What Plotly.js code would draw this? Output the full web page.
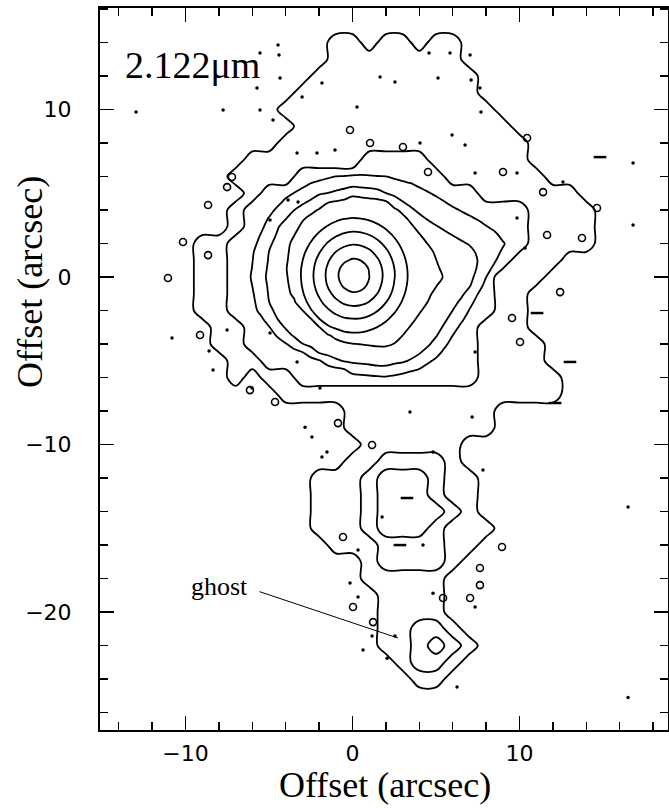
<!DOCTYPE html>
<html><head><meta charset="utf-8">
<script src="https://cdn.plot.ly/plotly-3.0.1.min.js"></script>
<style>html,body{margin:0;padding:0;background:#fff}#chart{width:669px;height:808px}</style>
</head><body><div id="chart"></div>
<script>
// Outer envelope: contour level index per 1-arcsec cell (0..3)
const outerX = [-12,-11,-10,-9,-8,-7,-6,-5,-4,-3,-2,-1,0,1,2,3,4,5,6,7,8,9,10,11,12,13,14,15,16,17];
const outerY = [15,14,13,12,11,10,9,8,7,6,5,4,3,2,1,0,-1,-2,-3,-4,-5,-6,-7,-8,-9,-10,-11,-12,-13,-14,-15,-16,-17,-18,-19,-20,-21,-22,-23,-24,-25];
const outerLevels = [
"000000000000000000000000000000",
"000000000001101101100000000000",
"000000000001111111100000000000",
"000000000011111111110000000000",
"000000000111111111110000000000",
"000000001111111111111000000000",
"000000000111111111111100000000",
"000000001111111111111110000000",
"000000111111122221111110000000",
"000001111222222222111111000000",
"000000122222222222221111110000",
"000001222222222222222221111000",
"000001222222222222222221111000",
"000112222222222222222221111000",
"000112222222222222222211100000",
"000112222222222222222111000000",
"000112222222222222222110000000",
"000112222222222222222110000000",
"000011222222222222221110000000",
"000011222222222222221111000000",
"000001122222222222221111000000",
"000001011222222222221111100000",
"000000001111111111111111100000",
"000000000000111111111000000000",
"000000000000111111111000000000",
"000000000000011111100000000000",
"000000000000112222100000000000",
"000000000011123332110000000000",
"000000000011123332110000000000",
"000000000011123333210000000000",
"000000000011123332111000000000",
"000000000001112222110000000000",
"000000000000012222100000000000",
"000000000000011111000000000000",
"000000000000001111000000000000",
"000000000000001111000000000000",
"000000000000001122100000000000",
"000000000000001123210000000000",
"000000000000000122100000000000",
"000000000000000011000000000000",
"000000000000000000000000000000"
];
// Central source: brightness in contour-level units per 0.5-arcsec cell
const innerX = [-6.5,-6,-5.5,-5,-4.5,-4,-3.5,-3,-2.5,-2,-1.5,-1,-0.5,0,0.5,1,1.5,2,2.5,3,3.5,4,4.5,5,5.5,6,6.5,7,7.5,8,8.5,9,9.5];
const innerY = [6.5,6,5.5,5,4.5,4,3.5,3,2.5,2,1.5,1,0.5,0,-0.5,-1,-1.5,-2,-2.5,-3,-3.5,-4,-4.5,-5,-5.5,-6,-6.5];
const innerLevels = [
[0,0,0,0,0,0,0,0,0,0,0,2,2.03,2.07,2.1,2.07,2.03,2,0,0,0,0,0,0,0,0,0,0,0,0,0,0,0],
[0,0,0,0,0,0,0,0,2.1,2.23,2.37,2.51,2.53,2.57,2.6,2.57,2.53,2.51,2.37,2.23,2.1,0,0,0,0,0,0,0,0,0,0,0,0],
[0,0,0,0,0,0,2.03,2.31,2.6,2.78,2.93,3.08,3.16,3.27,3.22,3.17,3.11,3,2.83,2.71,2.6,2.35,2.1,0,0,0,0,0,0,0,0,0,0],
[0,0,0,0,0,2.2,2.53,2.82,3.11,3.4,3.51,3.69,3.9,4.31,4.16,4.01,3.85,3.51,3.25,3,3,2.85,2.6,2.32,2.01,0,0,0,0,0,0,0,0],
[0,0,0,0,2.2,2.7,3,3.33,3.61,4.04,4.43,4.56,4.69,4.82,4.87,4.81,4.76,4.57,4.02,3.51,3.17,3,3,2.82,2.51,2.2,0,0,0,0,0,0,0],
[0,0,0,2.15,2.7,3.08,3.49,3.83,4.28,4.57,4.86,5,5,5,5,5,5,4.97,4.66,4.3,3.67,3.28,3,3,3,2.7,2.43,2.17,0,0,0,0,0],
[0,0,2.05,2.57,3,3.45,3.95,4.4,4.69,4.98,5.03,5.29,5.46,5.53,5.49,5.37,5.15,5,5,4.7,4.31,3.78,3.4,3.09,3,3,2.93,2.67,2.4,2.07,0,0,0],
[0,0,2.3,2.83,3.39,3.94,4.23,4.67,5,5.2,5.57,5.86,6.05,6.14,6.1,5.95,5.69,5.36,5,5,4.63,4.24,3.9,3.59,3.28,3,3,3,2.9,2.57,2.23,0,0],
[0,2.04,2.54,3.07,3.6,4.04,4.48,4.91,5.2,5.67,6.08,6.41,6.65,6.76,6.71,6.52,6.22,5.84,5.39,5,4.95,4.56,4.17,4,3.78,3.48,3.19,3,3,3,2.75,2.2,0],
[0,2.22,2.75,3.31,3.83,4.25,4.72,5.02,5.57,6.08,6.56,6.98,7.28,7.42,7.36,7.12,6.74,6.28,5.78,5.24,5,4.87,4.48,4.09,4,3.98,3.69,3.4,3,3,3,2.62,2.1],
[0,2.4,2.95,3.51,4,4.32,4.81,5.29,5.88,6.44,7.01,7.51,7.85,8.01,7.94,7.67,7.22,6.67,6.11,5.52,5,5,4.8,4.35,4,4,4,3.85,3.3,3,2.85,2.35,0],
[0,2.47,3.02,3.57,4,4.38,4.87,5.48,6.11,6.74,7.38,7.92,8.36,8.61,8.49,8.11,7.61,7,6.35,5.73,5.11,5,4.99,4.52,4.05,4,4,3.98,3.48,3,2.6,2.1,0],
[2.03,2.53,3.1,3.64,4,4.44,4.94,5.6,6.24,6.92,7.6,8.2,8.82,9.31,9.07,8.43,7.84,7.2,6.51,5.86,5.21,5,5,4.7,4.23,4,4,3.92,3.41,2.8,2.3,0,0],
[2.1,2.6,3.17,3.7,4,4.39,4.89,5.63,6.28,6.96,7.65,8.27,8.98,9.69,9.27,8.52,7.9,7.24,6.54,5.89,5.24,5,5,4.83,4.41,4,4,3.79,3.2,2.51,2,0,0],
[2,2.51,3.07,3.63,4,4.32,4.81,5.56,6.2,6.86,7.53,8.1,8.65,9.03,8.85,8.32,7.76,7.13,6.45,5.82,5.18,5,4.97,4.55,4.11,4,4,3.6,2.88,2.25,0,0,0],
[0,2.4,2.98,3.57,4,4.25,4.67,5.41,6.02,6.63,7.24,7.77,8.16,8.36,8.27,7.94,7.48,6.88,6.27,5.66,5.04,5,4.69,4.28,4,4,3.71,3.13,2.51,2,0,0,0],
[0,2.3,2.88,3.49,4,4,4.37,5.19,5.76,6.31,6.84,7.31,7.64,7.78,7.72,7.47,7.04,6.52,5.98,5.42,5,4.9,4.49,4.05,4,3.83,3.31,2.76,2.23,0,0,0,0],
[0,2.2,2.71,3.24,3.75,4,4.06,4.46,5.43,5.92,6.37,6.75,7.03,7.16,7.1,6.88,6.53,6.11,5.63,5.11,5,4.61,4.21,4,4,3.49,2.98,2.46,0,0,0,0,0],
[0,0,2.33,2.9,3.49,4,4,4.1,4.45,5.48,5.88,6.19,6.41,6.48,6.46,6.29,6.01,5.65,5.22,5,4.73,4.32,4,4,3.67,3.17,2.67,2.17,0,0,0,0,0],
[0,0,0,2.45,3.03,3.6,4,4,4.1,4.45,5.36,5.63,5.81,5.89,5.86,5.72,5.48,5.16,5,4.81,4.42,4.03,4,3.86,3.36,2.84,2.33,0,0,0,0,0,0],
[0,0,0,2.08,2.58,3.09,3.6,3.98,4,4.09,4.31,4.8,5.22,5.28,5.26,5.13,5,5,4.89,4.49,4.11,4,4,3.56,3.03,2.49,0,0,0,0,0,0,0],
[0,0,0,0,2.1,2.43,2.88,3.47,3.78,4,4,4.08,4.29,4.46,4.52,4.58,4.64,4.63,4.48,4.19,4,4,3.65,3.16,2.7,2.17,0,0,0,0,0,0,0],
[0,0,0,0,0,0,2.24,2.47,2.96,3.58,3.78,3.92,4,4,4.02,4.08,4.14,4.15,4,4,3.91,3.59,3.17,2.83,2.3,0,0,0,0,0,0,0,0],
[0,0,0,0,0,0,0,0,2.19,2.41,2.95,3.35,3.56,3.7,3.76,3.81,3.87,3.86,3.75,3.64,3.39,3.07,2.67,2.33,0,0,0,0,0,0,0,0,0],
[0,0,0,0,0,0,0,0,0,0,2.12,2.31,2.49,2.9,3,3.11,3.23,3.24,3.05,2.86,2.64,2.49,2.17,0,0,0,0,0,0,0,0,0,0],
[0,0,0,0,0,0,0,0,0,0,0,0,2.01,2.2,2.25,2.3,2.35,2.4,2.3,2.2,2.1,0,0,0,0,0,0,0,0,0,0,0,0],
[0,0,0,0,0,0,0,0,0,0,0,0,0,0,0,0,0,0,0,0,0,0,0,0,0,0,0,0,0,0,0,0,0]
];
// Noise specks (arcsec)
const dotX = [-5.54,-4.46,-4.34,-5.72,-7.75,-5.54,-4.76,-1.83,-3.02,1.65,2.54,0.27,-1.05,-2.13,-3.32,5.12,5.84,7.04,7.63,5.96,7.34,9.85,12.6,16.8,9.85,10.33,7.34,-10.81,-7.51,-8.59,-8.35,-3.26,-3.86,-4.94,-4.94,-3.32,-1.95,-6.02,-2.43,-2.84,-1.53,-1.83,3.44,4.82,7.81,7.16,1.77,4.22,0.33,-0.15,0.33,1.17,0.63,2.07,2.54,4.82,7.34,6.26,16.5,16.8,-12.96,7.1,7.69,4.58,-4.4,4.04,6.74,16.5];
const dotY = [13.37,13.85,11.88,11.28,9.97,9.97,9.37,11.58,10.75,11.94,11.64,10.15,7.58,7.4,7.4,11.88,13.37,13.25,11.28,8.48,6.21,6.21,5.67,3.1,3.52,1.73,-4.48,-3.64,-3.16,-4.42,-5.55,4.48,4.6,3.4,-3.34,-5.07,-6.63,-6.63,-9.55,-8.96,-10.45,-10.75,-8.06,-10.45,-11.52,-8.36,-14.33,-16.0,-16.3,-18.27,-19.1,-21.43,-22.27,-22.75,-21.43,-18.87,-19.7,-24.48,-13.73,6.81,9.85,11.76,9.85,13.37,13.25,8.0,7.88,-25.1];
const loopX = [-7.51,-7.22,-8.65,-10.15,-8.65,-11.05,-9.13,-6.14,-4.64,-0.87,1.17,8.95,-0.57,0.03,1.23,5.42,7.04,7.63,7.63,4.52,11.41,11.65,13.74,12.43,10.03,9.55,14.64,10.45,9.01,-0.15,1.05,3.02];
const loopY = [5.37,5.97,4.3,2.09,1.31,-0.06,-3.46,-6.75,-7.46,-8.72,-10.03,-16.12,-15.52,-19.7,-20.6,-19.16,-19.16,-18.39,-17.37,6.27,5.07,2.51,2.33,-0.9,-3.88,-2.45,4.12,8.3,6.27,8.78,8.0,7.76];
const dashX = [11.05,13.02,12.13,3.26,2.84,14.82];
const dashY = [-2.15,-5.07,-7.52,-13.19,-16.0,7.16];

function toGrid(rows, n){
  return rows.map(r => { const a = []; for (let i = 0; i < n; i++) a.push(i < r.length ? Number(r[i]) : 0); return a; });
}
const zOuter = toGrid(outerLevels, outerX.length);
const zInner = toGrid(innerLevels, innerX.length);

const serif = 'Liberation Serif, Times New Roman, serif';
const traces = [
  {type:'contour', x: outerX, y: outerY, z: zOuter, showscale:false, hoverinfo:'skip',
   contours:{coloring:'none', start:0.5, end:2.5, size:1},
   line:{color:'black', width:1.8, smoothing:1}},
  {type:'contour', x: innerX, y: innerY, z: zInner, showscale:false, hoverinfo:'skip',
   contours:{coloring:'none', start:2.5, end:8.5, size:1},
   line:{color:'black', width:1.8, smoothing:1}},
  {type:'scatter', mode:'markers', x: dotX, y: dotY, hoverinfo:'skip',
   marker:{size:3.5, color:'black'}},
  {type:'scatter', mode:'markers', x: loopX, y: loopY, hoverinfo:'skip',
   marker:{size:7, symbol:'circle-open', color:'black', line:{width:1.6, color:'black'}}},
  {type:'scatter', mode:'markers', x: dashX, y: dashY, hoverinfo:'skip',
   marker:{size:9, symbol:'line-ew', color:'black', line:{width:2.5, color:'black'}}}
];

const axisCommon = {
  showgrid:false, zeroline:false, showline:true, linecolor:'black', linewidth:2,
  mirror:'allticks', ticks:'inside', ticklen:14, tickwidth:1.5, tickcolor:'black',
  tick0:0, dtick:10,
  minor:{ticks:'inside', ticklen:8, tickwidth:1.5, tickcolor:'black', dtick:2, tick0:0, showgrid:false},
  tickfont:{family:'DejaVu Sans, sans-serif', size:22, color:'black'}
};

const layout = {
  width:669, height:808,
  margin:{l:100, r:1, t:8, b:78},
  paper_bgcolor:'white', plot_bgcolor:'white', showlegend:false,
  xaxis: Object.assign({}, axisCommon, {range:[-15.12, 18.89], ticklabelstandoff:3}),
  yaxis: Object.assign({}, axisCommon, {range:[-27.04, 16.06], ticklabelstandoff:22}),
  annotations:[
    {text:'2.122\u03bcm', x:-13.75, y:12.66, xref:'x', yref:'y', xanchor:'left', yanchor:'middle', showarrow:false,
     font:{family:serif, size:38, color:'black'}},
    {text:'ghost', x:-7.95, y:-18.5, xref:'x', yref:'y', xanchor:'center', yanchor:'middle', showarrow:false,
     font:{family:serif, size:26, color:'black'}},
    {text:'', x:2.72, y:-21.55, ax:-5.66, ay:-18.75, xref:'x', yref:'y', axref:'x', ayref:'y',
     showarrow:true, arrowhead:0, arrowwidth:1, arrowcolor:'black', standoff:0, startstandoff:0},
    {text:'Offset (arcsec)', xref:'x', yref:'paper', x:1.95, y:-0.0762, xanchor:'center', yanchor:'middle', showarrow:false,
     font:{family:serif, size:36, color:'black'}},
    {text:'Offset (arcsec)', xref:'paper', yref:'y', x:-0.1232, y:-0.3, xanchor:'center', yanchor:'middle', showarrow:false,
     textangle:-90, font:{family:serif, size:36, color:'black'}}
  ]
};

Plotly.newPlot('chart', traces, layout, {displayModeBar:false, staticPlot:true});
</script>
</body></html>
